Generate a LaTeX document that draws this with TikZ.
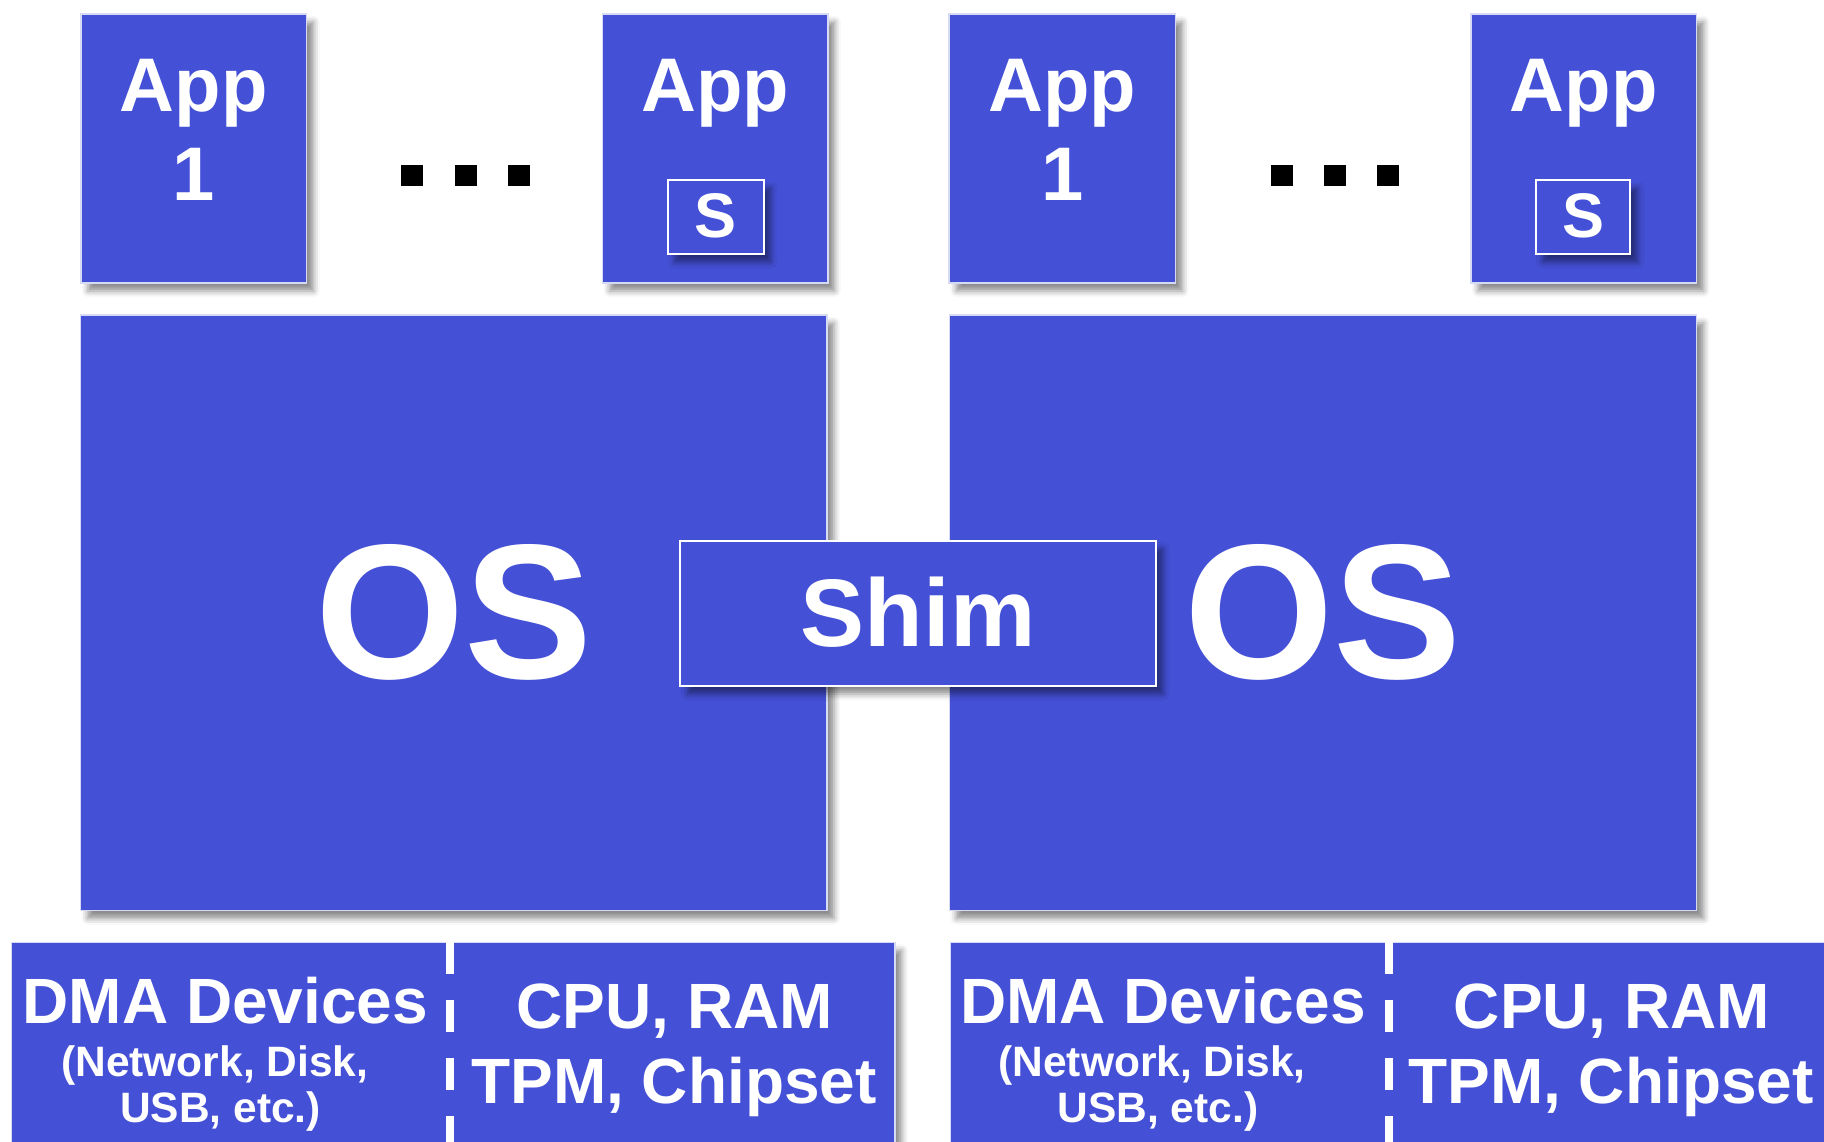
\documentclass[tikz,border=0pt]{standalone}
\usepackage{fontspec}
\setmainfont{Liberation Sans}
\usetikzlibrary{shadows.blur}
\definecolor{osblue}{RGB}{68,80,214}
\definecolor{rim}{RGB}{214,218,245}
\begin{document}
\begin{tikzpicture}[x=1pt,y=-1pt,
  box/.style={rectangle, fill=osblue, draw=rim, line width=1.5pt,
    inner sep=0pt, outer sep=0pt, anchor=north west,
    blur shadow={shadow xshift=7pt, shadow yshift=-8pt,
      shadow blur radius=6pt, shadow opacity=45}},
  txt/.style={text=white, inner sep=0pt, anchor=base,
    font=\fontsize{#1}{#1}\selectfont\bfseries},
  dotsq/.style={rectangle, fill=black, inner sep=0pt,
    minimum width=22pt, minimum height=21pt},
  seam/.style={fill=osblue, draw=none},
  divider/.style={white, line width=8pt, dash pattern=on 32pt off 26pt}]
\useasboundingbox (0,0) rectangle (1824,1142);
\clip (0,0) rectangle (1824,1142);

% ---------------- left machine ----------------
\node[box, minimum width=746.5pt, minimum height=595.5pt] (osL) at (80.5,315) {};
\node[box, minimum width=225.7pt, minimum height=269pt] (appL1) at (80.9,14) {};
\node[box, minimum width=225.1pt, minimum height=269pt] (appLn) at (602.7,14) {};
\node[box, minimum width=96pt, minimum height=74pt, draw=white, line width=2pt] (sL) at (667.8,180) {};
\node[dotsq] (dL1) at (412,176) {};
\node[dotsq] (dL2) at (466,176) {};
\node[dotsq] (dL3) at (519,176) {};

\node[txt=76] (tAppL1) at (193.7,111.7) {App};
\node[txt=76] (tOneL) at (193.7,201) {1};
\node[txt=76] (tAppLn) at (715.2,111.7) {App};
\node[txt=63] (tSL) at (715.8,238) {S};
\node[txt=192] (tOSL) at (453.7,678) {OS};

\node[box, minimum width=438pt, minimum height=220pt] (dmaL) at (11.6,942.3) {};
\node[box, minimum width=445.2pt, minimum height=220pt] (cpuL) at (449.6,942.3) {};
\fill[seam] ([shift={(-4pt,-1.5pt)}]cpuL.north west) rectangle ([xshift=4pt]cpuL.south west);
\draw[divider] (cpuL.north west) -- (cpuL.south west);
\node[txt=64] (tDmaL) at (225.4,1023) {DMA Devices};
\node[txt=42.5] (tNetL) at (214.7,1076) {(Network, Disk,};
\node[txt=42.5] (tUsbL) at (220.5,1122.7) {USB, etc.)};
\node[txt=64] (tCpuL) at (675,1028) {CPU, RAM};
\node[txt=64] (tTpmL) at (674,1103.3) {TPM, Chipset};

% ---------------- right machine ----------------
\node[box, minimum width=747.4pt, minimum height=595.5pt] (osR) at (949.3,315) {};
\node[box, minimum width=226.3pt, minimum height=269pt] (appR1) at (949.2,14) {};
\node[box, minimum width=225.7pt, minimum height=269pt] (appRn) at (1471,14) {};
\node[box, minimum width=94.8pt, minimum height=74pt, draw=white, line width=2pt] (sR) at (1535.6,180) {};
\node[dotsq] (dR1) at (1282,176) {};
\node[dotsq] (dR2) at (1335,176) {};
\node[dotsq] (dR3) at (1388,176) {};

\node[txt=76] (tAppR1) at (1062.4,111.7) {App};
\node[txt=76] (tOneR) at (1062.4,201) {1};
\node[txt=76] (tAppRn) at (1583.8,111.7) {App};
\node[txt=63] (tSR) at (1583,238) {S};
\node[txt=192] (tOSR) at (1323,678) {OS};

\node[box, minimum width=438.4pt, minimum height=220pt] (dmaR) at (950.4,942.3) {};
\node[box, minimum width=445pt, minimum height=220pt] (cpuR) at (1388.8,942.3) {};
\fill[seam] ([shift={(-4pt,-1.5pt)}]cpuR.north west) rectangle ([xshift=4pt]cpuR.south west);
\draw[divider] (cpuR.north west) -- (cpuR.south west);
\node[txt=64] (tDmaR) at (1163,1023) {DMA Devices};
\node[txt=42.5] (tNetR) at (1152,1076) {(Network, Disk,};
\node[txt=42.5] (tUsbR) at (1158,1122.7) {USB, etc.)};
\node[txt=64] (tCpuR) at (1612,1028) {CPU, RAM};
\node[txt=64] (tTpmR) at (1611,1103.3) {TPM, Chipset};

% ---------------- shim across both ----------------
\node[box, minimum width=475.6pt, minimum height=145.3pt, draw=white, line width=2pt] (shim) at (680.4,540.7) {};
\node[txt=96] (tShim) at (918,646.7) {Shim};
\end{tikzpicture}
\end{document}
